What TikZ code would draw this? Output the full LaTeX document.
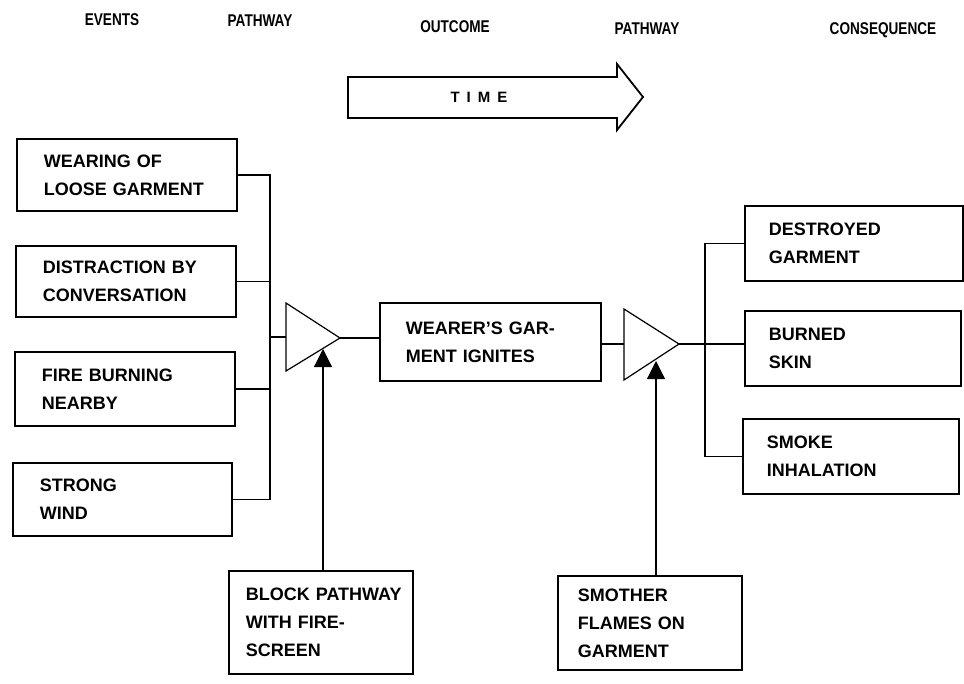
\documentclass[tikz,border=0pt]{standalone}
\usepackage{fontspec}
\usetikzlibrary{arrows.meta}
\newfontfamily\bodyfam{Liberation Sans}
\newfontfamily\hdrfam[FakeStretch=0.8]{Liberation Sans}
\newcommand\nohyphs{\hyphenpenalty=10000\relax\uchyph=0\relax}
\tikzset{
  box/.style={draw, line width=1.8pt, anchor=north west, align=left, inner ysep=0pt,
    font=\bodyfam\bfseries\fontsize{18}{28}\selectfont, execute at begin node=\nohyphs},
  hdr/.style={font=\hdrfam\bfseries\fontsize{17}{20}\selectfont, inner sep=0pt},
  wire/.style={line width=1.2pt},
  gate/.style={line width=1.2pt, line join=miter},
  ctrl/.style={line width=1.2pt, -{Triangle[width=18pt,length=18pt]}},
  timearrow/.style={line width=1.8pt, line join=miter},
}
\begin{document}
\begin{tikzpicture}[x=1pt,y=-1pt]
\useasboundingbox[fill=white] (0,0) rectangle (964,683);

% headers
\node[hdr] (h1) at (112,20) {EVENTS};
\node[hdr] (h2) at (260,21) {PATHWAY};
\node[hdr] (h3) at (455,27) {OUTCOME};
\node[hdr] (h4) at (647,29) {PATHWAY};
\node[hdr] (h5) at (883,30) {CONSEQUENCE};

% time arrow
\draw[timearrow] (348,77) -- (617,77) -- (617,64) -- (643,97) -- (617,130) -- (617,118) -- (348,118) -- cycle;
\node[font=\bodyfam\bfseries\fontsize{15}{17}\selectfont, inner sep=0pt] (time) at (479,97)
  {T\hspace{7pt}I\hspace{7pt}M\hspace{7pt}E};

% left event boxes
\node[box, text width=166pt, inner xsep=27pt, minimum height=72pt] (b1) at (16,138) {WEARING~OF\\LOOSE~GARMENT};
\node[box, text width=166pt, inner xsep=27pt, minimum height=71pt] (b2) at (15,245) {DISTRACTION~BY\\CONVERSATION};
\node[box, text width=166pt, inner xsep=27pt, minimum height=74pt] (b3) at (14,351) {FIRE~BURNING\\NEARBY};
\node[box, text width=165pt, inner xsep=27pt, minimum height=73pt] (b4) at (12,462) {STRONG\\WIND};

% first gate
\coordinate (j1) at (270,0);
\coordinate (t1a) at (286,303);
\coordinate (t1b) at (286,371);
\coordinate (t1w) at (286,337);
\coordinate (t1tip) at (340,338);
\draw[gate] (t1a) -- (t1tip) -- (t1b) -- cycle;

\draw[wire] (b1.east) -- (b1.east -| j1) -- (b4.east -| j1) -- (b4.east);
\draw[wire] (b2.east) -- (b2.east -| j1);
\draw[wire] (b3.east) -- (b3.east -| j1);
\draw[wire] (t1w -| j1) -- (t1w);

% outcome
\node[box, text width=169pt, inner xsep=26pt, minimum height=78pt] (mid) at (379,302) {WEARER’S~GAR-\\MENT~IGNITES};
\draw[wire] (t1tip) -- (t1tip -| mid.west);

% second gate
\coordinate (t2a) at (624,309);
\coordinate (t2b) at (624,380);
\coordinate (t2w) at (624,344);
\coordinate (t2tip) at (679,344);
\draw[gate] (t2a) -- (t2tip) -- (t2b) -- cycle;
\draw[wire] (mid.east |- t2w) -- (t2w);

% consequence boxes
\coordinate (j2) at (705,0);
\node[box, text width=170pt, inner xsep=24pt, minimum height=75pt] (r1) at (744,205) {DESTROYED\\GARMENT};
\node[box, text width=168pt, inner xsep=24pt, minimum height=75pt] (r2) at (744,310) {BURNED\\SKIN};
\node[box, text width=168pt, inner xsep=24pt, minimum height=75pt] (r3) at (742,418) {SMOKE\\INHALATION};
\draw[wire] (t2tip) -- (t2tip -| r2.west);
\draw[wire] (r1.west) -- (r1.west -| j2) -- (r3.west -| j2) -- (r3.west);

% barriers
\node[box, text width=150pt, inner xsep=17pt, minimum height=103pt] (blk) at (228,570) {BLOCK~PATHWAY\\WITH~FIRE-\\SCREEN};
\node[box, text width=144pt, inner xsep=20pt, minimum height=94pt] (smo) at (557,575) {SMOTHER\\FLAMES~ON\\GARMENT};
\coordinate (a1tip) at (323,349);
\coordinate (a2tip) at (656,361);
\draw[ctrl] (blk.north -| a1tip) -- (a1tip);
\draw[ctrl] (smo.north -| a2tip) -- (a2tip);
\end{tikzpicture}
\end{document}
